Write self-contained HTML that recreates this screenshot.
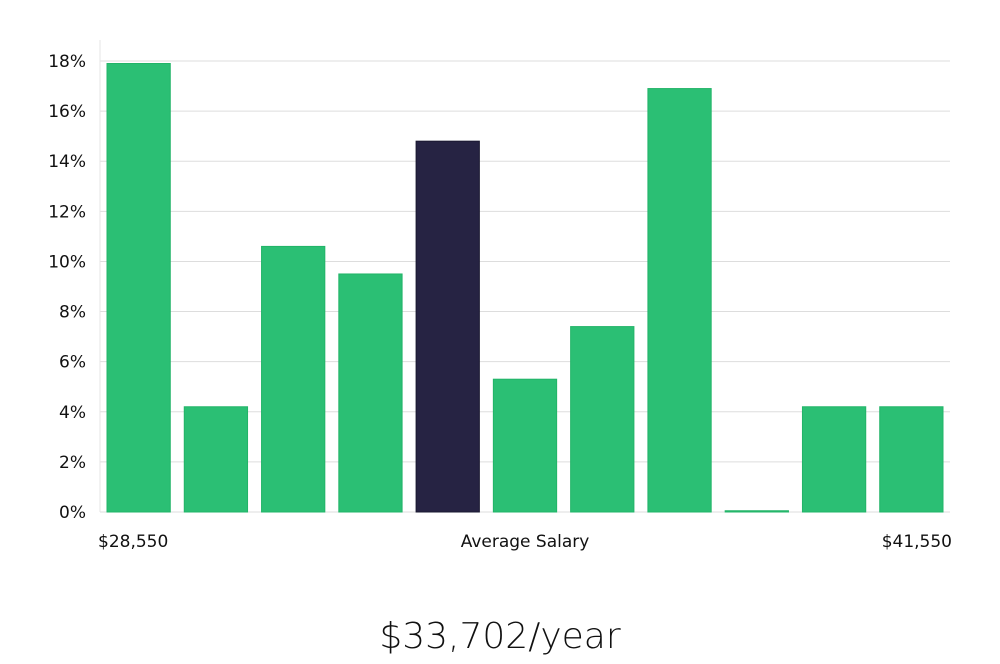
<!DOCTYPE html>
<html><head><meta charset="utf-8"><style>
body{margin:0;background:#fff;width:1000px;height:660px;overflow:hidden;font-family:"DejaVu Sans","Liberation Sans",sans-serif;}
svg text{font-family:"DejaVu Sans","Liberation Sans",sans-serif;}
</style></head><body>
<svg id="chart" width="1000" height="660" xmlns="http://www.w3.org/2000/svg"></svg>
<script>
const categories=["b1","b2","b3","b4","b5","b6","b7","b8","b9","b10","b11"];
const values=[17.9,4.2,10.6,9.5,14.8,5.3,7.4,16.9,0.05,4.2,4.2];
const highlightIndex=4;
const yTicks=[0,2,4,6,8,10,12,14,16,18];
const xLabels=["$28,550","Average Salary","$41,550"];
const salaryText="$33,702/year";

const svg=document.getElementById('chart');
const NS="http://www.w3.org/2000/svg";
const left=100,right=950,y0=512,yTop=61,yMax=18;
const y=v=>y0-(v/yMax)*(y0-yTop);
const slot=(right-left)/categories.length;
const x=i=>left+i*slot;
function mk(t,a){const e=document.createElementNS(NS,t);for(const k in a)e.setAttribute(k,a[k]);svg.appendChild(e);return e;}

yTicks.forEach(t=>{
  const g=mk('line',{x1:left,x2:right,y1:y(t),y2:y(t),stroke:'#dddddd','stroke-width':1});
  
  
  const tx=mk('text',{x:86,y:y(t)+6,'text-anchor':'end','font-size':17,fill:'#111'});
  tx.textContent=t+'%';
  
  
});
const ax=mk('line',{x1:left,x2:left,y1:40,y2:y0,stroke:'#e4e4e4','stroke-width':1});



values.forEach((v,i)=>{
  const hi=i===highlightIndex;
  const r=mk('rect',{x:x(i)+7,y:y(v),width:slot-14,height:Math.max(1,y0-y(v)),fill:hi?'#262343':'#2bbf74',stroke:hi?'#1a1830':'#22b468','stroke-width':1});
  
  
});

const xpos=[[98,'start'],[525,'middle'],[952,'end']];
xLabels.forEach((l,i)=>{
  const t=mk('text',{x:xpos[i][0],y:547,'text-anchor':xpos[i][1],'font-size':17,fill:'#111'});
  t.textContent=l;
  
  
});
const s=mk('text',{x:500,y:648,'text-anchor':'middle','font-size':36,fill:'#111','font-weight':'300'});
s.textContent=salaryText;


</script>
</body></html>
